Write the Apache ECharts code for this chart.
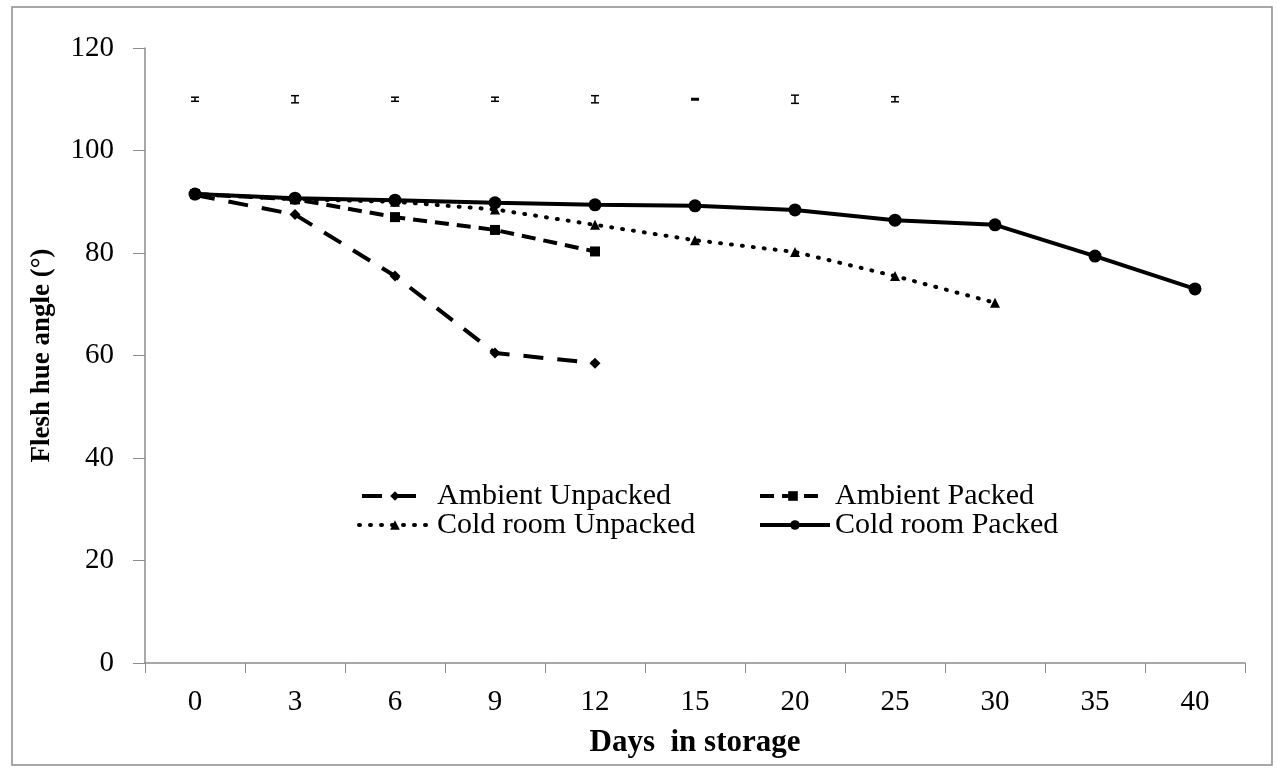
<!DOCTYPE html>
<html>
<head>
<meta charset="utf-8">
<script src="https://cdn.jsdelivr.net/npm/echarts@6/dist/echarts.min.js"></script>
<style>html,body{margin:0;padding:0;background:#fff;}#main{width:1277px;height:769px;}</style>
</head>
<body>
<div id="main"></div>
<script>
const days = ['0','3','6','9','12','15','20','25','30','35','40'];
const ambientUnpacked = [91.3, 87.5, 75.5, 60.5, 58.5];
const ambientPacked = [91.5, 90.5, 87.0, 84.5, 80.3];
const coldUnpacked = [91.5, 90.5, 90.0, 88.5, 85.5, 82.5, 80.2, 75.5, 70.3];
const coldPacked = [91.5, 90.7, 90.3, 89.8, 89.4, 89.2, 88.4, 86.4, 85.5, 79.4, 73.0];
// LSD-style bars shown above the curves: [day index, low, high]
const errBars = [[0,109.6,110.4],[1,109.3,110.7],[2,109.6,110.4],[3,109.6,110.4],[4,109.3,110.7],[5,110,110],[6,109.2,110.8],[7,109.5,110.5]];

const font = 'Liberation Serif';
const chart = echarts.init(document.getElementById('main'));
function legendAt(name, left, top, w, pad) {
  return {
    data: [name], left: left, top: top, itemWidth: w, itemHeight: 12, itemGap: 0,
    lineStyle: {width: 'inherit', type: 'inherit'},
    textStyle: {fontFamily: font, fontSize: 30, color: '#000', padding: [0,0,0,pad]}
  };
}
chart.setOption({
  animation: false,
  backgroundColor: '#fff',
  graphic: [{type: 'rect', shape: {x: 12, y: 7, width: 1260, height: 758}, style: {fill: 'none', stroke: '#8c8c8c', lineWidth: 1.5}, silent: true}],
  grid: {left: 145, right: 32, top: 48, bottom: 106},
  legend: [
    legendAt('Ambient Unpacked', 355, 476, 66, 4),
    legendAt('Ambient Packed', 753, 476, 66, 4),
    legendAt('Cold room Unpacked', 352, 505, 72, 1),
    legendAt('Cold room Packed', 753, 505, 70, 0)
  ],
  xAxis: {
    type: 'category', data: days, boundaryGap: true,
    name: 'Days  in storage', nameLocation: 'middle', nameGap: 64,
    nameTextStyle: {fontFamily: font, fontSize: 31, fontWeight: 'bold', color: '#000'},
    axisLine: {lineStyle: {color: '#8c8c8c', width: 1.5}},
    axisTick: {show: true, length: 10, lineStyle: {color: '#8c8c8c'}},
    axisLabel: {fontFamily: font, fontSize: 29, color: '#000', margin: 25},
    splitLine: {show: false}
  },
  yAxis: {
    type: 'value', min: 0, max: 120, interval: 20,
    name: 'Flesh hue angle (°)', nameLocation: 'middle', nameGap: 89, nameRotate: 90,
    nameTextStyle: {fontFamily: font, fontSize: 27, fontWeight: 'bold', color: '#000'},
    axisLine: {show: true, lineStyle: {color: '#8c8c8c', width: 1.5}},
    axisTick: {show: true, length: 12, lineStyle: {color: '#8c8c8c'}},
    axisLabel: {fontFamily: font, fontSize: 29, color: '#000', margin: 31},
    splitLine: {show: false}
  },
  series: [
    {
      name: 'Ambient Unpacked', type: 'line', data: ambientUnpacked,
      symbol: 'diamond', symbolSize: 11, itemStyle: {color: '#000'},
      lineStyle: {color: '#000', width: 4, type: [20, 14]}
    },
    {
      name: 'Ambient Packed', type: 'line', data: ambientPacked,
      symbol: 'rect', symbolSize: 10, itemStyle: {color: '#000'},
      lineStyle: {color: '#000', width: 4, type: [14, 8]}
    },
    {
      name: 'Cold room Unpacked', type: 'line', data: coldUnpacked,
      symbol: 'triangle', symbolSize: 10, itemStyle: {color: '#000'},
      lineStyle: {color: '#000', width: 4, type: [1, 10], cap: 'round'}
    },
    {
      name: 'Cold room Packed', type: 'line', data: coldPacked,
      symbol: 'circle', symbolSize: 13, itemStyle: {color: '#000'},
      lineStyle: {color: '#000', width: 4}
    },
    {
      type: 'custom', data: errBars, silent: true,
      renderItem: function (params, api) {
        const x = api.coord([api.value(0), api.value(1)])[0];
        const yLo = api.coord([api.value(0), api.value(1)])[1];
        const yHi = api.coord([api.value(0), api.value(2)])[1];
        const hw = 4;
        const st = {stroke: '#000', lineWidth: 1.5};
        return {
          type: 'group', children: [
            {type: 'line', shape: {x1: x, y1: yLo, x2: x, y2: yHi}, style: st},
            {type: 'line', shape: {x1: x - hw, y1: yLo, x2: x + hw, y2: yLo}, style: {stroke: '#000', lineWidth: yLo === yHi ? 3 : 1.5}},
            {type: 'line', shape: {x1: x - hw, y1: yHi, x2: x + hw, y2: yHi}, style: st}
          ]
        };
      }
    }
  ]
});
</script>
</body>
</html>
